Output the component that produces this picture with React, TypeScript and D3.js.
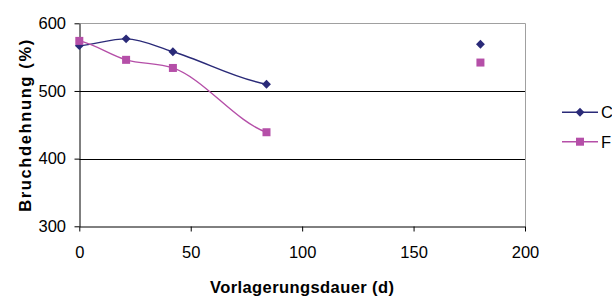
import React, { useEffect, useRef } from 'react';
import * as d3 from 'd3';

// storage time (d) and elongation at break (%); null = gap in the line
const days = [0, 21, 42, 84, 130, 180];
const seriesC = [567, 577, 558, 510, null, 569];
const seriesF = [574, 546, 534, 439, null, 542];
const seriesNames = ['C', 'F'];
const xTicks = [0, 50, 100, 150, 200];
const yTicks = [300, 400, 500, 600];

const colors = ['#2a2a78', '#b54fa8'];

// Hermite smoothing similar to Excel's: monotone tangents inside,
// softened tangents at the ends of each run
function smoothRun(path: d3.Path, p: [number, number][]) {
  const n = p.length;
  if (n === 0) return;
  path.moveTo(p[0][0], p[0][1]);
  if (n === 1) return;
  const h: number[] = [];
  const s: number[] = [];
  for (let i = 0; i < n - 1; i++) {
    h.push(p[i + 1][0] - p[i][0]);
    s.push((p[i + 1][1] - p[i][1]) / h[i]);
  }
  const t: number[] = new Array(n).fill(0);
  for (let i = 1; i < n - 1; i++) {
    const s0 = s[i - 1], s1 = s[i];
    const q = (s0 * h[i] + s1 * h[i - 1]) / (h[i - 1] + h[i]);
    t[i] = (Math.sign(s0) + Math.sign(s1)) * Math.min(Math.abs(s0), Math.abs(s1), 0.5 * Math.abs(q)) || 0;
  }
  t[0] = s[0] / 2;
  t[n - 1] = s[n - 2] / 2;
  for (let i = 0; i < n - 1; i++) {
    const d = h[i] / 3;
    path.bezierCurveTo(
      p[i][0] + d, p[i][1] + t[i] * d,
      p[i + 1][0] - d, p[i + 1][1] - t[i + 1] * d,
      p[i + 1][0], p[i + 1][1]
    );
  }
}

const App = () => {
  const svgRef = useRef<SVGSVGElement>(null);

  useEffect(() => {
    const svg = d3.select(svgRef.current);
    svg.selectAll('*').remove();

    const left = 79.3, right = 525, top = 23.3, bottom = 226.3;
    const font = 'Liberation Sans, Arial, sans-serif';

    const x = d3.scaleLinear().domain([0, 200]).range([left, right]);
    const y = d3.scaleLinear().domain([300, 600]).range([bottom, top]);

    // plot border (top/right gray)
    svg.append('path')
      .attr('d', `M${left},${Math.round(top) + 0.5}H${Math.round(right) + 0.5}V${bottom}`)
      .attr('fill', 'none')
      .attr('stroke', '#a0a0a0')
      .attr('stroke-width', 1);

    // gridlines
    svg.append('g')
      .selectAll('line')
      .data(yTicks.filter(t => t > 300 && t < 600))
      .join('line')
      .attr('x1', left)
      .attr('x2', right)
      .attr('y1', d => Math.round(y(d)) + 0.5)
      .attr('y2', d => Math.round(y(d)) + 0.5)
      .attr('stroke', '#000');

    // axes
    const xAxis = svg.append('g')
      .attr('transform', `translate(0,${Math.round(bottom) + 0.5})`)
      .call(d3.axisBottom(x).tickValues(xTicks).tickSize(5).tickPadding(15).tickSizeOuter(0));
    xAxis.select('.domain').attr('stroke', '#000');
    xAxis.selectAll('text').style('font-family', font).style('font-size', '16.5px').attr('fill', '#000');

    const yAxis = svg.append('g')
      .attr('transform', `translate(${Math.round(left) + 0.5},0)`)
      .call(d3.axisLeft(y).tickValues(yTicks).tickSize(5).tickPadding(8.5).tickSizeOuter(0));
    yAxis.select('.domain').attr('stroke', '#000');
    yAxis.selectAll('text').style('font-family', font).style('font-size', '16.5px').attr('fill', '#000');

    const diamond = d3.symbol(d3.symbolDiamond2, 50)();

    const allSeries = [seriesC, seriesF];
    allSeries.forEach((vals, i) => {
      // split into runs at null values
      const runs: [number, number][][] = [];
      let cur: [number, number][] = [];
      days.forEach((d, j) => {
        const v = vals[j];
        if (v === null) {
          if (cur.length) runs.push(cur);
          cur = [];
        } else {
          cur.push([x(d), y(v)]);
        }
      });
      if (cur.length) runs.push(cur);

      const path = d3.path();
      runs.filter(r => r.length > 1).forEach(r => smoothRun(path, r));
      svg.append('path')
        .attr('d', path.toString())
        .attr('fill', 'none')
        .attr('stroke', colors[i])
        .attr('stroke-width', 1.4);

      const g = svg.append('g');
      runs.flat().forEach(([cx, cy]) => {
        if (i === 0) {
          g.append('path')
            .attr('d', diamond)
            .attr('transform', `translate(${cx},${cy})`)
            .attr('fill', colors[i]);
        } else {
          g.append('rect')
            .attr('x', cx - 4).attr('y', cy - 4)
            .attr('width', 8).attr('height', 8)
            .attr('fill', colors[i]);
        }
      });
    });

    // legend (cut off at the right edge like the original)
    const legend = svg.append('g');
    seriesNames.forEach((name, i) => {
      const ly = 112.3 + i * 29.4;
      legend.append('line')
        .attr('x1', 562).attr('x2', 598)
        .attr('y1', ly).attr('y2', ly)
        .attr('stroke', colors[i])
        .attr('stroke-width', 1.4);
      if (i === 0) {
        legend.append('path')
          .attr('d', diamond)
          .attr('transform', `translate(580,${ly})`)
          .attr('fill', colors[i]);
      } else {
        legend.append('rect')
          .attr('x', 576).attr('y', ly - 4)
          .attr('width', 8).attr('height', 8)
          .attr('fill', colors[i]);
      }
      legend.append('text')
        .attr('x', 601)
        .attr('y', ly)
        .attr('dy', '0.36em')
        .style('font-family', font)
        .style('font-size', '16.5px')
        .text(name);
    });

    // axis titles
    svg.append('text')
      .attr('transform', `translate(31,125.8) rotate(-90)`)
      .attr('text-anchor', 'middle')
      .attr('textLength', 172)
      .attr('lengthAdjust', 'spacing')
      .style('font-family', font)
      .style('font-size', '16.5px')
      .style('font-weight', 'bold')
      .text('Bruchdehnung (%)');

    svg.append('text')
      .attr('x', 302)
      .attr('y', 293)
      .attr('text-anchor', 'middle')
      .attr('textLength', 184)
      .attr('lengthAdjust', 'spacing')
      .style('font-family', font)
      .style('font-size', '16.5px')
      .style('font-weight', 'bold')
      .text('Vorlagerungsdauer (d)');
  }, []);

  return (
    <svg
      ref={svgRef}
      width={612}
      height={296}
      style={{ position: 'absolute', left: 0, top: 0, background: '#fff' }}
    />
  );
};

export default App;
